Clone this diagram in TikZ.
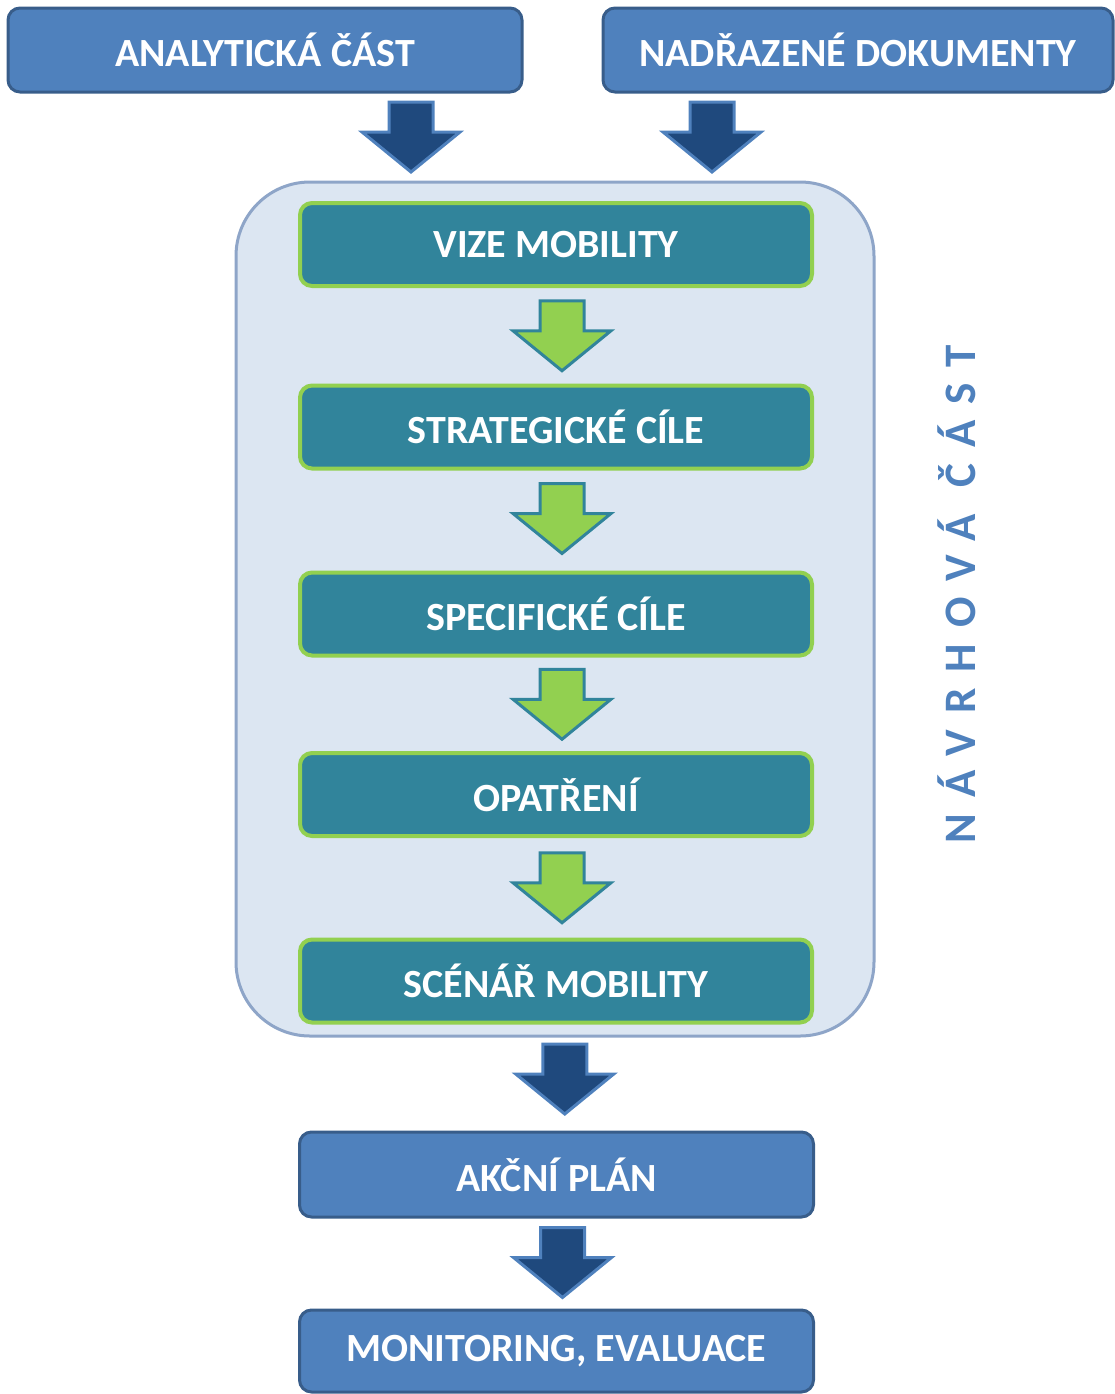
\documentclass[tikz,border=0pt]{standalone}
\usepackage{fontspec}
\setmainfont{Carlito}
\usetikzlibrary{calc}
\definecolor{boxblue}{HTML}{4F81BD}
\definecolor{boxblueline}{HTML}{385D8A}
\definecolor{arrdark}{HTML}{1F497D}
\definecolor{teal}{HTML}{31849B}
\definecolor{lgreen}{HTML}{92D050}
\definecolor{contfill}{HTML}{DCE6F2}
\definecolor{contline}{HTML}{8EA5C8}
\tikzset{
  bluebox/.style={draw=boxblueline, fill=boxblue, line width=1.5pt, rounded corners=6pt,
    minimum width=257pt, minimum height=42pt, text=white, font=\bfseries\fontsize{20}{24}\selectfont, inner sep=0pt},
  tealbox/.style={draw=lgreen, fill=teal, line width=2pt, rounded corners=6pt,
    minimum width=256pt, minimum height=41.5pt, text=white, font=\bfseries\fontsize{20}{24}\selectfont, inner sep=0pt},
  bluearrow/.style={fill=arrdark, draw=boxblue, line width=1.5pt, line join=miter},
  greenarrow/.style={fill=lgreen, draw=teal, line width=1.5pt, line join=miter},
}
\newcommand\blockarrow[2]{%
  \begin{scope}[shift={(#2)}]
    \draw[#1] (-22,-35) -- (22,-35) -- (22,-5) -- (49,-5) -- (0,35) -- (-49,-5) -- (-22,-5) -- cycle;
  \end{scope}}
\begin{document}
\begin{tikzpicture}[x=0.5pt, y=-0.5pt]
\useasboundingbox (0,0) rectangle (1115,1394);
% container
\node[draw=contline, fill=contfill, line width=1.5pt, rounded corners=37pt,
  minimum width=319pt, minimum height=427pt, inner sep=0pt] (navrh) at (555,609) {};
% top boxes
\node[bluebox] (anal) at (265,50) {ANALYTICKÁ ČÁST};
\node[bluebox, minimum width=255pt] (nadr) at (858,50) {NADŘAZENÉ DOKUMENTY};
% inner boxes
\node[tealbox] (vize) at (556,244.5) {VIZE MOBILITY};
\node[tealbox] (strat) at (556,427) {STRATEGICKÉ CÍLE};
\node[tealbox] (spec) at (556,614) {SPECIFICKÉ CÍLE};
\node[tealbox] (opat) at (556,794.5) {OPATŘENÍ};
\node[tealbox] (scen) at (556,981) {SCÉNÁŘ MOBILITY};
% bottom boxes
\node[bluebox, minimum height=42.5pt] (akcni) at (556.5,1174.5) {AKČNÍ PLÁN};
\node[bluebox, minimum height=41pt] (monit) at (556.5,1351) {MONITORING, EVALUACE};
% side label
\node[rotate=90, text=boxblue, font=\bfseries\fontsize{22.5}{26}\selectfont\addfontfeature{LetterSpace=36}, inner sep=0pt] (lbl) at (957,594) {NÁVRHOVÁ ČÁST};
% arrows
\coordinate (t1) at ($(anal.south -| 411,0)!0.5!(navrh.north -| 411,0)$);
\coordinate (t2) at ($(nadr.south -| 712,0)!0.5!(navrh.north -| 712,0)$);
\blockarrow{bluearrow}{t1}
\blockarrow{bluearrow}{t2}
\coordinate (g1) at ($(vize.south)!0.5!(strat.north)+(6,0)$);
\coordinate (g2) at ($(strat.south)!0.5!(spec.north)+(6,-2)$);
\coordinate (g3) at ($(spec.south)!0.5!(opat.north)+(6,0)$);
\coordinate (g4) at ($(opat.south)!0.5!(scen.north)+(6,0)$);
\blockarrow{greenarrow}{g1}
\blockarrow{greenarrow}{g2}
\blockarrow{greenarrow}{g3}
\blockarrow{greenarrow}{g4}
\coordinate (b1) at ($(navrh.south)!0.5!(akcni.north)+(9,-5)$);
\coordinate (b2) at ($(akcni.south)!0.5!(monit.north)+(6,-1)$);
\blockarrow{bluearrow}{b1}
\blockarrow{bluearrow}{b2}
\end{tikzpicture}
\end{document}
